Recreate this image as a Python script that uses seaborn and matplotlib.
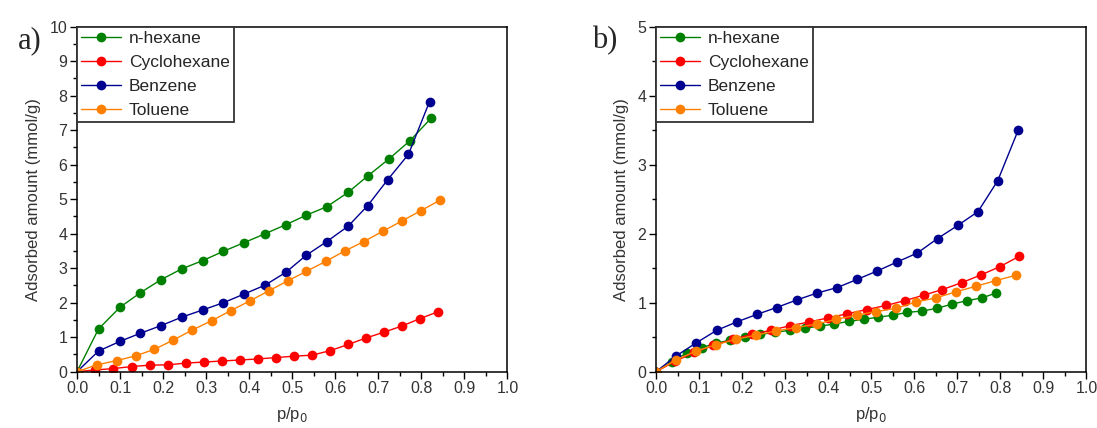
import numpy as np
import pandas as pd
import seaborn as sns
import matplotlib.pyplot as plt
from matplotlib.ticker import MultipleLocator

sns.set_style("ticks")
plt.rcParams['font.family'] = ['Liberation Sans', 'DejaVu Sans']

# panel a) values
hexane_a_p = [0, 0.050, 0.100, 0.146, 0.194, 0.243, 0.292, 0.340, 0.388, 0.437, 0.485, 0.533, 0.580, 0.630, 0.675, 0.724, 0.773, 0.822]
hexane_a = [0, 1.24, 1.87, 2.28, 2.66, 2.98, 3.22, 3.49, 3.74, 4.00, 4.26, 4.54, 4.78, 5.20, 5.67, 6.16, 6.69, 7.34]
cyclo_a_p = [0, 0.041, 0.084, 0.127, 0.169, 0.211, 0.253, 0.294, 0.336, 0.379, 0.420, 0.462, 0.504, 0.546, 0.588, 0.630, 0.672, 0.714, 0.756, 0.797, 0.839]
cyclo_a = [0, 0.05, 0.09, 0.15, 0.19, 0.20, 0.25, 0.28, 0.31, 0.34, 0.37, 0.41, 0.45, 0.48, 0.61, 0.79, 0.98, 1.15, 1.33, 1.54, 1.74]
benzene_a_p = [0, 0.050, 0.100, 0.146, 0.194, 0.243, 0.292, 0.340, 0.388, 0.437, 0.485, 0.533, 0.580, 0.630, 0.675, 0.722, 0.770, 0.819]
benzene_a = [0, 0.60, 0.88, 1.11, 1.33, 1.58, 1.79, 2.00, 2.25, 2.51, 2.88, 3.38, 3.77, 4.22, 4.81, 5.57, 6.30, 7.83]
toluene_a_p = [0, 0.046, 0.092, 0.136, 0.180, 0.224, 0.268, 0.313, 0.357, 0.401, 0.445, 0.489, 0.533, 0.578, 0.622, 0.666, 0.710, 0.755, 0.799, 0.843]
toluene_a = [0, 0.20, 0.32, 0.46, 0.65, 0.92, 1.21, 1.48, 1.77, 2.05, 2.34, 2.63, 2.91, 3.20, 3.50, 3.77, 4.07, 4.37, 4.67, 4.97]

# panel b)
hexane_b_p = [0, 0.036, 0.071, 0.106, 0.139, 0.172, 0.206, 0.241, 0.276, 0.311, 0.345, 0.380, 0.413, 0.448, 0.483, 0.516, 0.551, 0.584, 0.619, 0.653, 0.688, 0.723, 0.757, 0.790]
hexane_b = [0, 0.14, 0.27, 0.35, 0.41, 0.46, 0.50, 0.54, 0.57, 0.60, 0.63, 0.66, 0.69, 0.73, 0.76, 0.79, 0.82, 0.86, 0.88, 0.92, 0.98, 1.03, 1.07, 1.14]
cyclo_b_p = [0, 0.044, 0.089, 0.133, 0.179, 0.222, 0.266, 0.311, 0.355, 0.400, 0.444, 0.489, 0.534, 0.578, 0.622, 0.665, 0.710, 0.754, 0.798, 0.843]
cyclo_b = [0, 0.15, 0.28, 0.38, 0.47, 0.54, 0.60, 0.665, 0.72, 0.78, 0.84, 0.90, 0.96, 1.03, 1.11, 1.19, 1.29, 1.40, 1.52, 1.67]
benzene_b_p = [0, 0.047, 0.094, 0.141, 0.187, 0.234, 0.280, 0.327, 0.374, 0.421, 0.468, 0.514, 0.560, 0.607, 0.654, 0.701, 0.748, 0.794, 0.842]
benzene_b = [0, 0.23, 0.42, 0.60, 0.72, 0.83, 0.93, 1.04, 1.14, 1.22, 1.34, 1.46, 1.59, 1.72, 1.93, 2.12, 2.32, 2.77, 3.51]
toluene_b_p = [0, 0.046, 0.093, 0.139, 0.186, 0.232, 0.278, 0.325, 0.373, 0.419, 0.466, 0.510, 0.558, 0.604, 0.650, 0.698, 0.744, 0.789, 0.837]
toluene_b = [0, 0.17, 0.30, 0.39, 0.47, 0.53, 0.59, 0.64, 0.69, 0.76, 0.82, 0.87, 0.92, 1.01, 1.07, 1.16, 1.24, 1.32, 1.40]

names = ["n-hexane", "Cyclohexane", "Benzene", "Toluene"]
colors = ["#008000", "#ff0000", "#000090", "#ff8000"]

panels = {
    "a)": [(hexane_a_p, hexane_a), (cyclo_a_p, cyclo_a), (benzene_a_p, benzene_a), (toluene_a_p, toluene_a)],
    "b)": [(hexane_b_p, hexane_b), (cyclo_b_p, cyclo_b), (benzene_b_p, benzene_b), (toluene_b_p, toluene_b)],
}
ymax = {"a)": 10, "b)": 5}

fig = plt.figure(figsize=(10.97, 4.28), dpi=100)
lefts = [0.0702, 0.598]
label_x = [0.027, 0.551]

for i, (tag, series) in enumerate(panels.items()):
    ax = fig.add_axes([lefts[i], 0.1315, 0.3924, 0.8061])
    rows = []
    for name, (p, q) in zip(names, series):
        rows.append(pd.DataFrame({"p": p, "q": q, "gas": name}))
    df = pd.concat(rows, ignore_index=True)
    sns.lineplot(data=df, x="p", y="q", hue="gas", hue_order=names, palette=colors,
                 marker="o", markersize=7, markeredgewidth=0, linewidth=1,
                 sort=False, estimator=None, ax=ax)

    ax.set_xlim(0, 1)
    ax.set_ylim(0, ymax[tag])
    ax.xaxis.set_major_locator(MultipleLocator(0.1))
    ax.xaxis.set_minor_locator(MultipleLocator(0.05))
    ax.yaxis.set_major_locator(MultipleLocator(1))
    ax.yaxis.set_minor_locator(MultipleLocator(0.5))
    ax.tick_params(which="major", direction="out", length=5, width=1, colors="black",
                   labelcolor="#333333", labelsize=11.5, pad=2, top=False, right=False)
    ax.tick_params(which="minor", direction="out", length=3, width=1, colors="black",
                   top=False, right=False)
    for s in ax.spines.values():
        s.set_color("black")
        s.set_linewidth(1.1)
    ax.set_xlabel("p/p$_0$", fontsize=12, color="#333333", labelpad=6)
    ax.set_ylabel("Adsorbed amount (mmol/g)", fontsize=12, color="#333333", labelpad=6)

    leg = ax.legend(loc="upper left", bbox_to_anchor=(0.0, 1.0), fontsize=12.5,
                    handlelength=2.3, handletextpad=0.45, borderpad=0.25,
                    labelspacing=0.5, borderaxespad=0.0, fancybox=False,
                    framealpha=1, edgecolor="#333333")
    leg.get_frame().set_linewidth(1.3)

    fig.text(label_x[i], 0.905, tag, fontsize=22, family="Liberation Serif",
             ha="center", va="center")

fig.savefig("out.png", dpi=100)
